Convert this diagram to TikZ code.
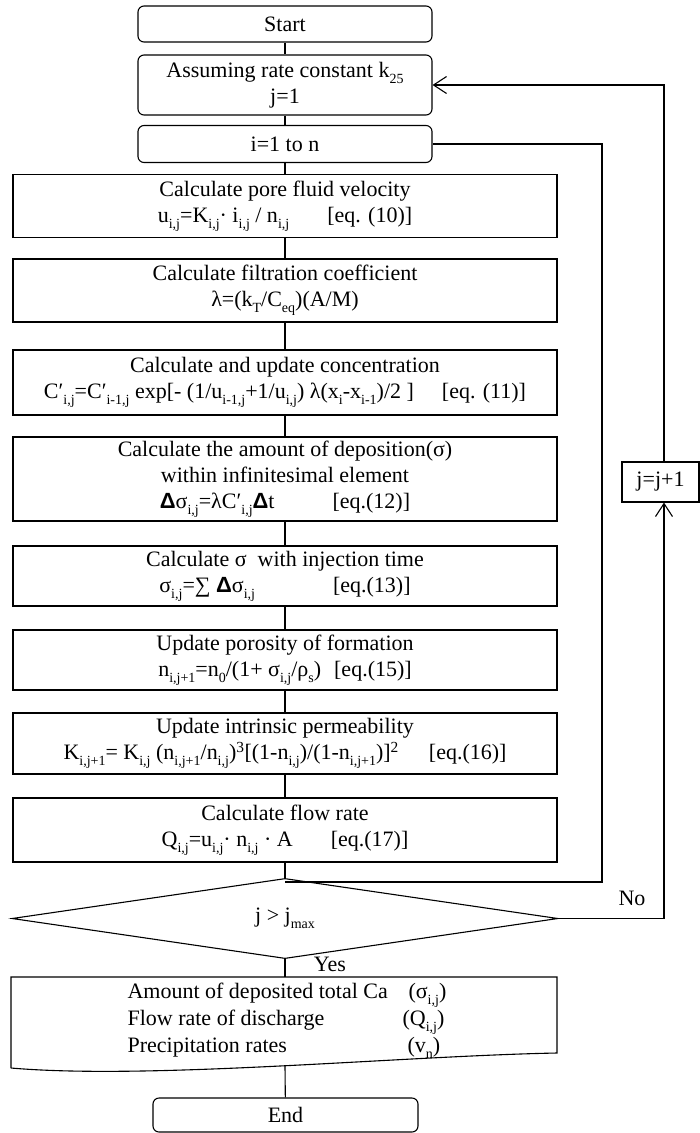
\documentclass[tikz,border=0pt]{standalone}
\usepackage{fontspec}
\setmainfont{Liberation Serif}
\newfontfamily\sffont{Liberation Sans}
\usetikzlibrary{arrows.meta,shapes.geometric}
\newcommand\sbs[1]{\raisebox{-0.26em}{\fontsize{14}{14}\selectfont #1}}
\newcommand\sps[1]{\textsuperscript{#1}}
\newcommand\bDelta{{\sffont\bfseries Δ}}
\begin{document}
\begin{tikzpicture}[x=1pt,y=-1pt,line width=1.1pt,
  every node/.style={font=\fontsize{22}{26}\selectfont},
  proc/.style={draw,rectangle,minimum width=544pt,inner sep=0pt,align=center},
  term/.style={draw,rounded corners=6pt,minimum width=294pt,inner sep=0pt,align=center},
  arr/.style={-{Straight Barb[length=13pt,width=17pt]}},
  lbl/.style={inner sep=0pt}]
\useasboundingbox (0,0) rectangle (700,1133);

\node[term,minimum height=36pt] (start) at (285,24) {Start};
\node[term,minimum height=60pt] (assume) at (285,85) {Assuming rate constant k\sbs{25}\\ j=1};
\node[term,minimum height=37pt] (iloop) at (285,144) {i=1 to n};

\node[proc,minimum height=63pt] (pore) at (285,206) {Calculate pore fluid velocity\\ u\sbs{i,j}=K\sbs{i,j}· i\sbs{i,j} / n\sbs{i,j}\hspace{38pt}[eq. (10)]};
\node[proc,minimum height=63pt] (filt) at (285,290.5) {Calculate filtration coefficient\\ λ=(k\sbs{T}/C\sbs{eq})(A/M)};
\node[proc,minimum height=65pt] (conc) at (285,382.5) {Calculate and update concentration\\ C′\sbs{i,j}=C′\sbs{i-1,j} exp[- (1/u\sbs{i-1,j}+1/u\sbs{i,j}) λ(x\sbs{i}-x\sbs{i-1})/2 ]\hspace{28pt}[eq. (11)]};
\node[proc,minimum height=84pt] (dep) at (285,479) {Calculate the amount of deposition(σ)\\ within infinitesimal element\\ \bDelta σ\sbs{i,j}=λC′\sbs{i,j}\bDelta t\hspace{58pt}[eq.(12)]};
\node[proc,minimum height=60pt] (sig) at (285,576) {Calculate σ\ \ with injection time\\ σ\sbs{i,j}=∑ \bDelta σ\sbs{i,j}\hspace{78pt}[eq.(13)]};
\node[proc,minimum height=60pt] (por) at (285,660) {Update porosity of formation\\ n\sbs{i,j+1}=n\sbs{0}/(1+ σ\sbs{i,j}/ρ\sbs{s})\hspace{13pt}[eq.(15)]};
\node[proc,minimum height=61pt] (perm) at (285,743.5) {Update intrinsic permeability\\ K\sbs{i,j+1}= K\sbs{i,j} (n\sbs{i,j+1}/n\sbs{i,j})\sps{3}[(1-n\sbs{i,j})/(1-n\sbs{i,j+1})]\sps{2}\hspace{30pt}[eq.(16)]};
\node[proc,minimum height=64pt] (flow) at (285,830) {Calculate flow rate\\ Q\sbs{i,j}=u\sbs{i,j}· n\sbs{i,j} · A\hspace{38pt}[eq.(17)]};

\node[draw,diamond,minimum width=546pt,minimum height=51pt,inner sep=0pt] (dec) at (285,918.5) {j > j\sbs{max}};

\node[draw,minimum width=77pt,minimum height=40pt,inner sep=0pt] (jinc) at (660.5,482) {j=j+1};

\node[term,minimum width=265pt,minimum height=34pt] (end) at (285.5,1115) {End};

% output (document) shape
\draw (11,1068) -- (11,977) -- (557,977) -- (557,1053) .. controls (400,1056) and (150,1080) .. (11,1068);
\coordinate (outtop) at (285,977);
\coordinate (outbot) at (285,1066);
\node[anchor=north west,inner sep=0pt,align=left] (outtxt) at (127,980) {\begin{tabular}{@{}p{275pt}@{}l@{}}
Amount of deposited total Ca & \hspace{6pt}(σ\sbs{i,j})\\
Flow rate of discharge & (Q\sbs{i,j})\\
Precipitation rates & \hspace{5pt}(v\sbs{n})
\end{tabular}};

% main flow
\draw (start) -- (assume);
\draw (assume) -- (iloop);
\draw (iloop) -- (pore);
\draw (pore) -- (filt);
\draw (filt) -- (conc);
\draw (conc) -- (dep);
\draw (dep) -- (sig);
\draw (sig) -- (por);
\draw (por) -- (perm);
\draw (perm) -- (flow);
\draw (flow) -- (dec);
\draw (dec) -- (outtop);
\draw (outbot) -- (end);

% inner loop
\coordinate (lp) at (285,882);
\coordinate (lpR) at (602,882);
\draw (lp) -- (lpR) |- (iloop.east);

% outer loop
\coordinate (nc) at (664,918.5);
\coordinate (tc) at (664,85);
\draw[arr] (dec.east) -- (nc) -- (nc |- jinc.south);
\draw[arr] (tc |- jinc.north) -- (tc) -- (assume.east);

\node[lbl] (no) at (632,898) {No};
\node[lbl] (yes) at (330,964) {Yes};
\end{tikzpicture}
\end{document}
